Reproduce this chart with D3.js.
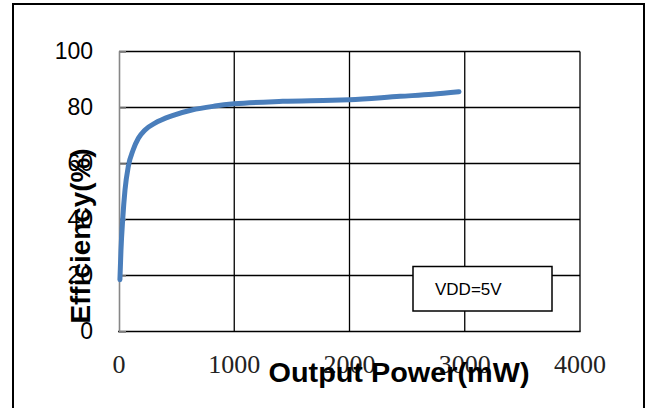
<!DOCTYPE html>
<html>
<head>
<meta charset="utf-8">
<script src="https://cdn.jsdelivr.net/npm/d3@7"></script>
<style>
  html, body { margin: 0; padding: 0; background: #fff; }
  svg { display: block; }
</style>
</head>
<body>
<svg id="chart" width="650" height="408"></svg>
<script>
// Efficiency vs output power, VDD = 5V
const powerMW = [8, 17, 32, 52, 81, 124, 168, 226, 312, 457, 631, 833, 1000, 1420, 1850, 2000, 2440, 2720, 2950];
const efficiencyPct = [18.5, 29, 40, 50.5, 59, 65, 69, 72, 74.4, 77, 79.1, 80.5, 81.3, 82.2, 82.6, 82.8, 84, 84.7, 85.6];
const xTicks = [0, 1000, 2000, 3000, 4000];
const yTicks = [0, 20, 40, 60, 80, 100];
const xTitle = "Output Power(mW)";
const yTitle = "Efficiency(%)";
const legendText = "VDD=5V";

const svg = d3.select("#chart");

const x = d3.scaleLinear().domain([0, 4000]).range([119, 580]);
const y = d3.scaleLinear().domain([0, 100]).range([331.5, 51.5]);

// outer frame
svg.append("rect")
  .attr("x", 13).attr("y", 4)
  .attr("width", 631).attr("height", 420)
  .attr("fill", "none").attr("stroke", "#000").attr("stroke-width", 2);

// horizontal gridlines
svg.append("g").selectAll("line").data(yTicks.filter(d => d > 0)).join("line")
  .attr("x1", x(0)).attr("x2", x(4000))
  .attr("y1", d => y(d)).attr("y2", d => y(d))
  .attr("stroke", "#000").attr("stroke-width", 1.3);

// vertical gridlines
svg.append("g").selectAll("line").data(xTicks.filter(d => d > 0)).join("line")
  .attr("x1", d => x(d)).attr("x2", d => x(d))
  .attr("y1", y(100)).attr("y2", y(0))
  .attr("stroke", "#000").attr("stroke-width", 1.3);

// bottom axis line
svg.append("line")
  .attr("x1", x(0) - 1).attr("x2", x(4000) + 0.6)
  .attr("y1", y(0)).attr("y2", y(0))
  .attr("stroke", "#000").attr("stroke-width", 1.6);

// left axis (gray) with short inner ticks
const yAxis = d3.axisRight(y).tickValues(yTicks).tickSize(7).tickFormat("");
const gy = svg.append("g").attr("transform", `translate(${x(0)},0)`).call(yAxis);
gy.select(".domain").attr("stroke", "#878787").attr("stroke-width", 1.6);
gy.selectAll(".tick line").attr("stroke", "#878787").attr("stroke-width", 1.6);

// y tick labels
svg.append("g").selectAll("text").data(yTicks).join("text")
  .attr("x", 93).attr("y", d => y(d) + 1.5)
  .attr("text-anchor", "end").attr("dominant-baseline", "middle")
  .attr("font-family", "'Liberation Sans', Arial, sans-serif")
  .attr("font-size", 23).attr("fill", "#000")
  .text(d => d);

// x tick labels
svg.append("g").selectAll("text").data(xTicks).join("text")
  .attr("x", d => x(d)).attr("y", 373)
  .attr("text-anchor", "middle")
  .attr("font-family", "'Liberation Serif', 'Times New Roman', serif")
  .attr("font-size", 26).attr("fill", "#222")
  .text(d => d);

// efficiency curve
const line = d3.line()
  .x((d, i) => x(powerMW[i]))
  .y(d => y(d))
  .curve(d3.curveMonotoneX);
svg.append("path")
  .datum(efficiencyPct)
  .attr("d", line)
  .attr("fill", "none")
  .attr("stroke", "#4a7ebb")
  .attr("stroke-width", 5)
  .attr("stroke-linecap", "round")
  .attr("stroke-linejoin", "round");

// legend box
svg.append("rect")
  .attr("x", 413).attr("y", 266.5).attr("width", 139).attr("height", 44.5)
  .attr("fill", "#fff").attr("stroke", "#000").attr("stroke-width", 1.5);
svg.append("text")
  .attr("x", 435).attr("y", 295)
  .attr("font-family", "'Liberation Sans', Arial, sans-serif")
  .attr("font-size", 17).attr("fill", "#000")
  .text(legendText);

// axis titles
svg.append("text")
  .attr("x", 399).attr("y", 382)
  .attr("text-anchor", "middle")
  .attr("font-family", "'Liberation Sans', Arial, sans-serif")
  .attr("font-weight", "bold").attr("font-size", 27)
  .attr("textLength", 261).attr("lengthAdjust", "spacingAndGlyphs")
  .attr("fill", "#000")
  .text(xTitle);

svg.append("text")
  .attr("transform", "translate(90,236) rotate(-90)")
  .attr("text-anchor", "middle")
  .attr("font-family", "'Liberation Sans', Arial, sans-serif")
  .attr("font-weight", "bold").attr("font-size", 27)
  .attr("textLength", 175).attr("lengthAdjust", "spacingAndGlyphs")
  .attr("fill", "#000")
  .text(yTitle);
</script>
</body>
</html>
